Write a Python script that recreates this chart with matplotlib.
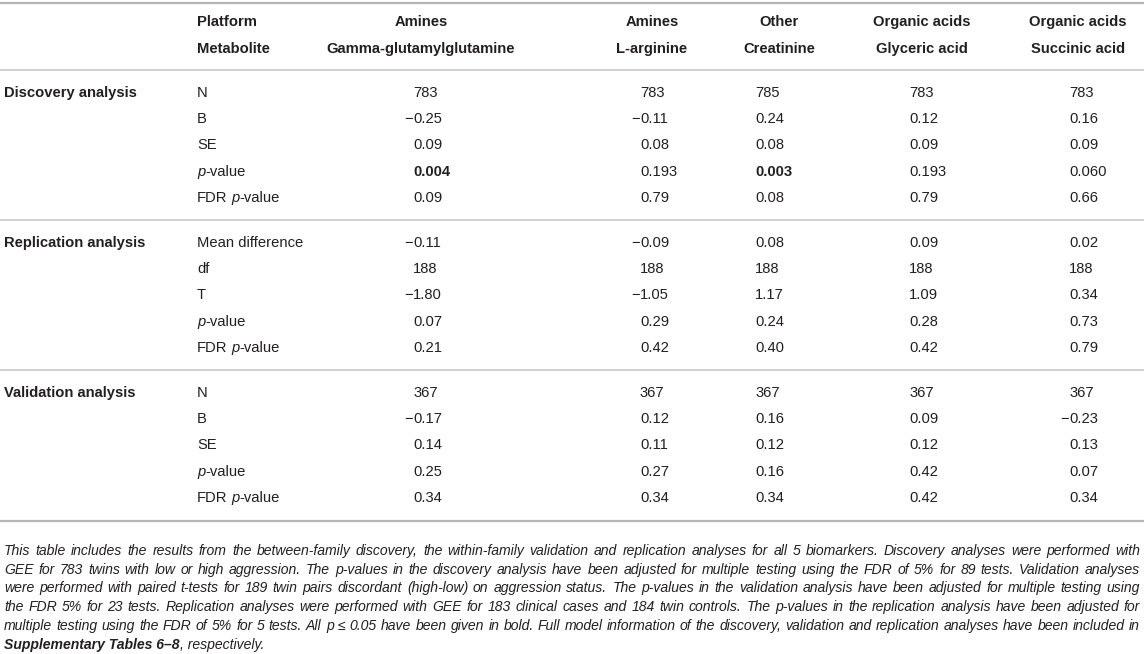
import matplotlib
matplotlib.use("Agg")
import matplotlib.pyplot as plt

# ---------------- data ----------------
platforms = ["Amines", "Amines", "Other", "Organic acids", "Organic acids"]
metabolites = ["Gamma-glutamylglutamine", "L-arginine", "Creatinine",
               "Glyceric acid", "Succinic acid"]
sections = ["Discovery analysis", "Replication analysis", "Validation analysis"]

discovery_labels = ["N", "B", "SE", "p-value", "FDR p-value"]
discovery_vals = [
    ["783", "783", "785", "783", "783"],
    ["−0.25", "−0.11", "0.24", "0.12", "0.16"],
    ["0.09", "0.08", "0.08", "0.09", "0.09"],
    ["0.004", "0.193", "0.003", "0.193", "0.060"],
    ["0.09", "0.79", "0.08", "0.79", "0.66"],
]
discovery_bold = [(3, 0), (3, 2)]

replication_labels = ["Mean difference", "df", "T", "p-value", "FDR p-value"]
replication_vals = [
    ["−0.11", "−0.09", "0.08", "0.09", "0.02"],
    ["188", "188", "188", "188", "188"],
    ["−1.80", "−1.05", "1.17", "1.09", "0.34"],
    ["0.07", "0.29", "0.24", "0.28", "0.73"],
    ["0.21", "0.42", "0.40", "0.42", "0.79"],
]
replication_bold = []

validation_labels = ["N", "B", "SE", "p-value", "FDR p-value"]
validation_vals = [
    ["367", "367", "367", "367", "367"],
    ["−0.17", "0.12", "0.16", "0.09", "−0.23"],
    ["0.14", "0.11", "0.12", "0.12", "0.13"],
    ["0.25", "0.27", "0.16", "0.42", "0.07"],
    ["0.34", "0.34", "0.34", "0.42", "0.34"],
]
validation_bold = []

caption_lines = [
    "This table includes the results from the between-family discovery, the within-family validation and replication analyses for all 5 biomarkers. Discovery analyses were performed with",
    "GEE for 783 twins with low or high aggression. The p-values in the discovery analysis have been adjusted for multiple testing using the FDR of 5% for 89 tests. Validation analyses",
    "were performed with paired t-tests for 189 twin pairs discordant (high-low) on aggression status. The p-values in the validation analysis have been adjusted for multiple testing using",
    "the FDR 5% for 23 tests. Replication analyses were performed with GEE for 183 clinical cases and 184 twin controls. The p-values in the replication analysis have been adjusted for",
    "multiple testing using the FDR of 5% for 5 tests. All p ≤ 0.05 have been given in bold. Full model information of the discovery, validation and replication analyses have been included in",
]
caption_last_bold = "Supplementary Tables 6–8"
caption_last_rest = ", respectively."

# ---------------- layout ----------------
W, H = 1144, 654
FONT = "Liberation Sans"
COLOR = "#231f20"
FS = 10.6

fig = plt.figure(figsize=(W / 100, H / 100), dpi=100)
ax = fig.add_axes([0, 0, 1, 1])
ax.set_xlim(0, W)
ax.set_ylim(H, 0)
ax.axis("off")
renderer = fig.canvas.get_renderer()


def txt(x, y, s, ha="left", weight="normal", style="normal", fs=FS, color=COLOR):
    return ax.text(x, y, s, ha=ha, va="center", fontsize=fs, family=FONT,
                   fontweight=weight, fontstyle=style, color=color)


def width(s, **kw):
    t = txt(0, 0, s, **kw)
    w = t.get_window_extent(renderer).width
    t.remove()
    return w


def space_w(**kw):
    return width("a a", **kw) - width("aa", **kw)


def label(x, y, s):
    # italic "p" inside labels like "p-value", "FDR p-value"
    if "p-value" in s:
        pre = s.split("p-value")[0].strip()
        cx = x
        if pre:
            txt(cx, y, pre)
            cx += width(pre) + space_w()
        txt(cx, y, "p", style="italic")
        cx += width("p", style="italic")
        txt(cx, y, "-value")
    else:
        txt(x, y, s)


def number(x, y, s, bold):
    w = "bold" if bold else "normal"
    if s.startswith("−"):
        txt(x, y, "−", ha="right", weight=w)
        s = s[1:]
    txt(x, y, s, ha="left", weight=w)


x_section = 4
x_label = 197
head_cx = [421, 652, 779, 922, 1078]
num_x = [413, 640, 755, 909, 1069]

# header
txt(x_label, 22, "Platform", weight="bold")
txt(x_label, 49, "Metabolite", weight="bold")
for cx, p, m in zip(head_cx, platforms, metabolites):
    txt(cx, 22, p, ha="center", weight="bold")
    txt(cx, 49, m, ha="center", weight="bold")

# rules
ax.axhline(3, color="#b5b5b5", lw=1.6)
ax.axhline(70, color="#c8c8c8", lw=1.2)
ax.axhline(220, color="#c8c8c8", lw=1.2)
ax.axhline(370, color="#c8c8c8", lw=1.2)
ax.axhline(521, color="#b5b5b5", lw=1.6)

blocks = [
    (discovery_labels, discovery_vals, discovery_bold),
    (replication_labels, replication_vals, replication_bold),
    (validation_labels, validation_vals, validation_bold),
]
y0, sec_step, row_step = 93, 150, 26.2
for si, (sec, (labs, vals, bolds)) in enumerate(zip(sections, blocks)):
    ys = y0 + si * sec_step
    txt(x_section, ys, sec, weight="bold")
    for ri, (lab, row) in enumerate(zip(labs, vals)):
        y = ys + ri * row_step
        label(x_label, y, lab)
        for ci, v in enumerate(row):
            number(num_x[ci], y, v, (ri, ci) in bolds)

# caption (justified)
cap_left, cap_right = 4, 1140
cap_y0, cap_step = 551, 18.7
cfs = 10.0
nat = []
for line in caption_lines:
    words = line.split(" ")
    nat.append(sum(width(w_, style="italic", fs=cfs) for w_ in words)
               + space_w(style="italic", fs=cfs) * (len(words) - 1))
scale = (cap_right - cap_left - 6) / max(nat)
cfs = cfs * scale

for li, line in enumerate(caption_lines):
    y = cap_y0 + li * cap_step
    words = line.split(" ")
    ws = [width(w_, style="italic", fs=cfs) for w_ in words]
    gap = (cap_right - cap_left - sum(ws)) / (len(words) - 1)
    cx = cap_left
    for w_, ww in zip(words, ws):
        txt(cx, y, w_, style="italic", fs=cfs)
        cx += ww + gap

y = cap_y0 + len(caption_lines) * cap_step
txt(cap_left, y, caption_last_bold, weight="bold", style="italic", fs=cfs)
cx = cap_left + width(caption_last_bold, weight="bold", style="italic", fs=cfs)
txt(cx, y, caption_last_rest, style="italic", fs=cfs)

fig.savefig("out.png", dpi=100)
